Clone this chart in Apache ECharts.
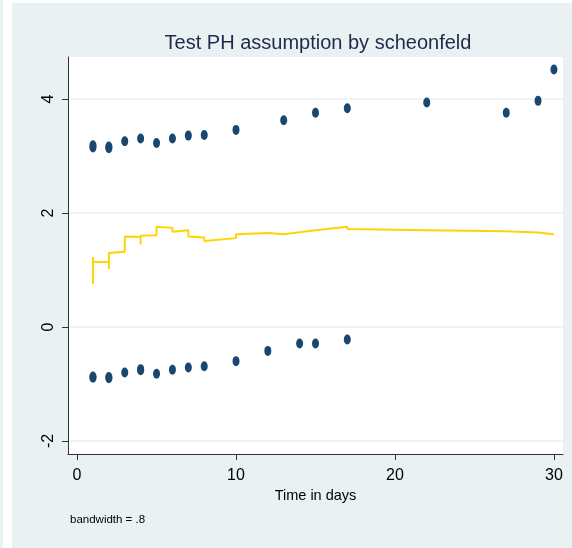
<!DOCTYPE html>
<html>
<head>
<meta charset="utf-8">
<script src="https://cdn.jsdelivr.net/npm/echarts@6/dist/echarts.min.js"></script>
<style>
html,body{margin:0;padding:0;background:#fff;}
#c{width:572px;height:548px;}
</style>
</head>
<body>
<div id="c"></div>
<script>
// ---- data ----
const titleText = 'Test PH assumption by scheonfeld';
const xAxisTitle = 'Time in days';
const noteText = 'bandwidth = .8';
const xTicks = [0, 10, 20, 30];
const yTicks = [-2, 0, 2, 4];

const upperTimes  = [1, 1, 2, 2, 3, 4, 5, 6, 7, 8, 10, 13, 15, 17, 22, 27, 29, 30];
const upperValues = [3.15, 3.19, 3.14, 3.17, 3.26, 3.31, 3.23, 3.31, 3.36, 3.37, 3.46, 3.63, 3.76, 3.84, 3.94, 3.76, 3.97, 4.52];

const lowerTimes  = [1, 1, 2, 2, 3, 4, 4, 5, 6, 7, 8, 10, 12, 14, 15, 17];
const lowerValues = [-0.89, -0.87, -0.90, -0.88, -0.80, -0.76, -0.74, -0.82, -0.75, -0.71, -0.69, -0.60, -0.42, -0.29, -0.29, -0.22];

const smoothTimes  = [1, 1, 1, 2, 2, 2, 3, 3, 4, 4, 4, 5, 5, 6, 6, 7, 7, 8, 8, 8, 10, 10, 12, 13, 15, 15, 17, 17, 22, 27, 29, 30];
const smoothValues = [1.23, 0.75, 1.14, 1.14, 1.02, 1.30, 1.32, 1.59, 1.58, 1.45, 1.60, 1.61, 1.76, 1.74, 1.67, 1.70, 1.59, 1.57, 1.51, 1.54, 1.56, 1.63, 1.65, 1.63, 1.70, 1.73, 1.76, 1.72, 1.70, 1.68, 1.66, 1.63];

const pair = (xs, ys) => xs.map((x, i) => [x, ys[i]]);

const FONT = "'Liberation Sans', Arial, sans-serif";
const BG = '#EAF1F3';

const chart = echarts.init(document.getElementById('c'), null, {renderer: 'canvas'});
chart.setOption({
  animation: false,
  backgroundColor: 'transparent',
  title: {
    text: titleText,
    left: 313,
    top: 28,
    textAlign: 'center',
    textStyle: {fontFamily: FONT, fontSize: 20, fontWeight: 'normal', color: '#1e2a4a'}
  },
  graphic: [
    {type: 'rect', z: -10, shape: {x: 0, y: 0, width: 3, height: 548}, style: {fill: BG}},
    {type: 'rect', z: -10, shape: {x: 12, y: 3, width: 560, height: 545}, style: {fill: BG}},
    {type: 'text', x: 70, y: 520, style: {text: noteText, font: '11.5px ' + FONT, fill: '#000', textVerticalAlign: 'middle'}}
  ],
  grid: {
    left: 68, top: 57, right: 9, bottom: 94,
    show: true, backgroundColor: '#ffffff', borderWidth: 0
  },
  xAxis: {
    type: 'value',
    min: -0.57, max: 30.57,
    name: xAxisTitle,
    nameLocation: 'middle',
    nameGap: 32,
    nameTextStyle: {fontFamily: FONT, fontSize: 14.5, color: '#000'},
    axisLine: {show: true, onZero: false, lineStyle: {color: '#333', width: 1}},
    axisTick: {show: true, length: 6, customValues: xTicks, lineStyle: {color: '#333'}},
    axisLabel: {customValues: xTicks, margin: 14, fontFamily: FONT, fontSize: 16, color: '#000'},
    splitLine: {show: false}
  },
  yAxis: {
    type: 'value',
    min: -2.23, max: 4.74,
    axisLine: {show: true, onZero: false, lineStyle: {color: '#333', width: 1}},
    axisTick: {show: true, length: 6, customValues: yTicks, lineStyle: {color: '#333'}},
    axisLabel: {customValues: yTicks, rotate: 90, margin: 11, fontFamily: FONT, fontSize: 16, color: '#000'},
    splitLine: {show: true, lineStyle: {color: BG, width: 1.5}}
  },
  series: [
    {
      type: 'scatter', data: pair(upperTimes, upperValues),
      symbol: 'circle', symbolSize: [7, 10],
      itemStyle: {color: '#1a476f', opacity: 1}
    },
    {
      type: 'scatter', data: pair(lowerTimes, lowerValues),
      symbol: 'circle', symbolSize: [7, 10],
      itemStyle: {color: '#1a476f', opacity: 1}
    },
    {
      type: 'line', data: pair(smoothTimes, smoothValues),
      showSymbol: false, symbol: 'none',
      lineStyle: {color: '#FFD400', width: 2},
      z: 3
    }
  ]
});
</script>
</body>
</html>
